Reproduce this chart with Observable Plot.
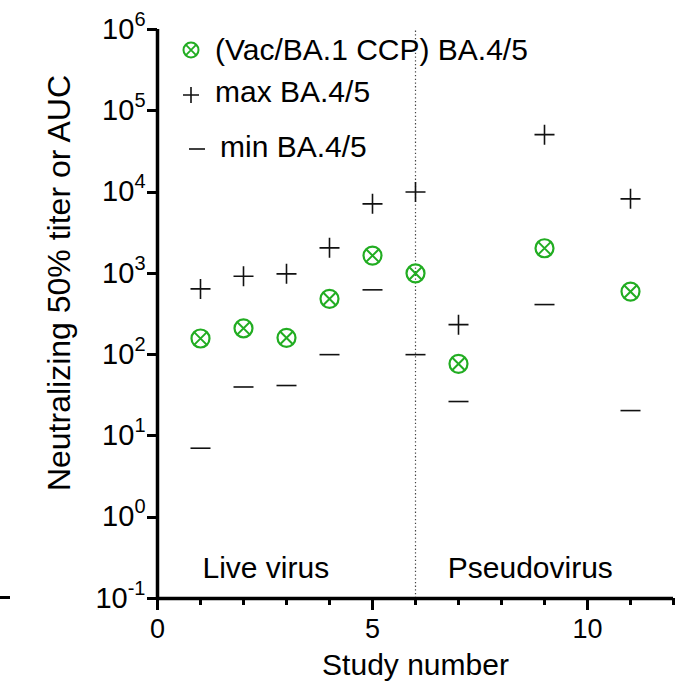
<!DOCTYPE html>
<html><head><meta charset="utf-8">
<script src="https://cdn.jsdelivr.net/npm/d3@7"></script>
<script src="https://cdn.jsdelivr.net/npm/@observablehq/plot@0.6"></script>
<style>
html,body{margin:0;padding:0;background:#fff;}
#wrap{position:relative;width:692px;height:692px;overflow:hidden;}
#stray{position:absolute;left:0;top:596px;width:10px;height:3px;background:#000;}
#ticks{position:absolute;left:0;top:0;pointer-events:none;}
</style></head><body>
<div id="wrap"><div id="chart"></div><div id="stray"></div><svg id="ticks" width="692" height="692"></svg></div>
<script>
// ---- data ----
const studies = [1, 2, 3, 4, 5, 6, 7, 9, 11];
const meanBA45 = [158, 211, 161, 486, 1656, 1000, 77, 2037, 597];
const maxBA45  = [644, 922, 986, 2060, 7160, 10000, 234, 50900, 8250];
const minBA45  = [7.06, 40, 41.7, 100, 627, 100, 26.5, 413, 20.5];
const yTicks = [0.1, 1, 10, 100, 1e3, 1e4, 1e5, 1e6];
const xMajorTicks = [0, 5, 10];
const xMinorTicks = [1, 2, 3, 4, 6, 7, 8, 9, 11, 12];
const dividerX = [6];
const regionLabels = ["Live virus", "Pseudovirus"];
const regionX = [2.52, 8.67];
const legendLabels = ["(Vac/BA.1 CCP) BA.4/5", "max BA.4/5", "min BA.4/5"];
const xLabel = "Study number";
const yLabel = "Neutralizing 50% titer or AUC";

const rows = studies.map((s, i) => ({study: s, mean: meanBA45[i], max: maxBA45[i], min: minBA45[i]}));
const regions = regionLabels.map((t, i) => ({label: t, x: regionX[i]}));

const GREEN = "#22ad22";
const FONT = "'Liberation Sans', Arial, sans-serif";
const rad = size => Math.sqrt(size / Math.PI);
const plusSym = {draw(ctx, size){const r = rad(size); ctx.moveTo(-r,0); ctx.lineTo(r,0); ctx.moveTo(0,-r); ctx.lineTo(0,r);}};
const minusSym = {draw(ctx, size){const r = rad(size); ctx.moveTo(-r,0); ctx.lineTo(r,0);}};
const timesSym = {draw(ctx, size){const r = rad(size)/Math.SQRT2; ctx.moveTo(-r,-r); ctx.lineTo(r,r); ctx.moveTo(-r,r); ctx.lineTo(r,-r);}};
const supFmt = d => "10^" + Math.round(Math.log10(d));

const plot = Plot.plot({
  width: 692, height: 692,
  marginLeft: 157, marginRight: 19, marginTop: 29, marginBottom: 94,
  style: {fontFamily: FONT, fontSize: "27px", color: "#000", background: "#fff", overflow: "visible"},
  x: {domain: [0, 12]},
  y: {type: "log", domain: [0.1, 1e6]},
  marks: [
    Plot.ruleX(dividerX, {y1: 0.1, y2: 1e6, stroke: "#444", strokeWidth: 1.2, strokeDasharray: "1.3,2.4"}),
    Plot.axisX({ticks: xMajorTicks, tickSize: 0, tickPadding: 20, fontSize: 27, label: null}),
    Plot.axisY({ticks: yTicks, tickSize: 0, tickPadding: 12, tickFormat: supFmt, fontSize: 29, label: null}),
    // axis lines
    Plot.ruleX([0], {y1: 0.1, y2: 1e6, stroke: "#000", strokeWidth: 3.5}),
    Plot.ruleY([0.1], {x1: 0, x2: 12, stroke: "#000", strokeWidth: 3.5}),
    // data
    Plot.dot(rows, {x: "study", y: "max", symbol: plusSym, r: 10, stroke: "#111", strokeWidth: 1.6, fill: "none"}),
    Plot.dot(rows, {x: "study", y: "min", symbol: minusSym, r: 10, stroke: "#111", strokeWidth: 1.6, fill: "none"}),
    Plot.dot(rows, {x: "study", y: "mean", symbol: "circle", r: 9, stroke: GREEN, strokeWidth: 2.2, fill: "none"}),
    Plot.dot(rows, {x: "study", y: "mean", symbol: timesSym, r: 9, stroke: GREEN, strokeWidth: 2, fill: "none"}),
    // annotations & axis titles
    Plot.text(regions, {x: "x", text: "label", frameAnchor: "bottom", dy: -20.6, fontSize: 30, fill: "#000"}),
    Plot.text([xLabel], {frameAnchor: "bottom", dy: 76, fontSize: 30, fill: "#000"}),
    Plot.text([yLabel], {frameAnchor: "left", textAnchor: "middle", rotate: -90, dx: -98, dy: -31, fontSize: 32, fill: "#000"})
  ]
});
document.getElementById("chart").appendChild(plot);

// superscript exponents on the y tick labels
plot.querySelectorAll("text").forEach(t => {
  const m = /^10\^(-?\d+)$/.exec(t.textContent);
  if (!m) return;
  t.textContent = "10";
  const ts = document.createElementNS("http://www.w3.org/2000/svg", "tspan");
  ts.setAttribute("font-size", "20");
  ts.setAttribute("dy", "-13");
  ts.textContent = m[1];
  t.appendChild(ts);
});

const svg = d3.select(plot);

// tick marks, positioned through Plot's own scales, on an overlay layer
const sx = plot.scale("x"), sy = plot.scale("y");
const x0 = sx.apply(0), yBase = sy.apply(0.1);
const tg = d3.select("#ticks").append("g").attr("stroke", "#000").attr("stroke-width", 3).attr("fill", "none").attr("shape-rendering", "crispEdges");
yTicks.forEach(v => { const y = Math.round(sy.apply(v)); tg.append("line").attr("x1", x0 - 10).attr("x2", x0).attr("y1", y).attr("y2", y); });
xMinorTicks.forEach(v => { const x = Math.round(sx.apply(v)); tg.append("line").attr("x1", x).attr("x2", x).attr("y1", yBase).attr("y2", yBase + 7); });
xMajorTicks.forEach(v => { const x = Math.round(sx.apply(v)); tg.append("line").attr("x1", x).attr("x2", x).attr("y1", yBase).attr("y2", yBase + 12); });

// legend
const lg = svg.append("g").attr("font-family", FONT).attr("font-size", 30).attr("fill", "#000").attr("text-anchor", "start");
const legendSym = [
  {cx: 191, cy: 50, tx: 215, ty: 60},
  {cx: 191, cy: 95, tx: 215, ty: 102},
  {cx: 197, cy: 149, tx: 220, ty: 157}
];
legendLabels.forEach((lab, i) => {
  const p = legendSym[i];
  const g = lg.append("g").attr("transform", `translate(${p.cx},${p.cy})`).attr("fill", "none");
  if (i === 0) {
    g.append("circle").attr("r", 7.5).attr("stroke", GREEN).attr("stroke-width", 2);
    g.append("path").attr("d", d3.symbol(timesSym, Math.PI * 7.5 * 7.5)()).attr("stroke", GREEN).attr("stroke-width", 1.8);
  } else if (i === 1) {
    g.append("path").attr("d", d3.symbol(plusSym, Math.PI * 8 * 8)()).attr("stroke", "#111").attr("stroke-width", 1.6);
  } else {
    g.append("path").attr("d", d3.symbol(minusSym, Math.PI * 8 * 8)()).attr("stroke", "#111").attr("stroke-width", 1.6);
  }
  lg.append("text").attr("x", p.tx).attr("y", p.ty).attr("text-anchor", "start").text(lab);
});
</script>
</body></html>
